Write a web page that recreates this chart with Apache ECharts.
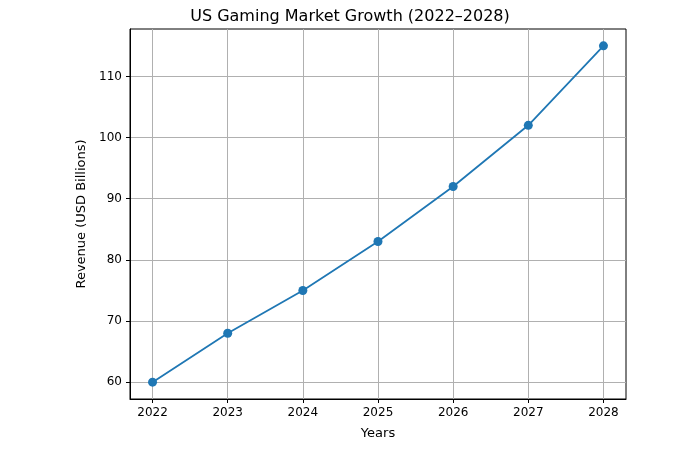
<!DOCTYPE html>
<html><head><meta charset="utf-8">
<script src="https://cdn.jsdelivr.net/npm/echarts@6/dist/echarts.min.js"></script>
<style>body{margin:0}#c{width:700px;height:450px}</style></head>
<body><div id="c"></div>
<script>
const years = [2022, 2023, 2024, 2025, 2026, 2027, 2028];
const revenue = [60, 68, 75, 83, 92, 102, 115];
const yTicks = [60, 70, 80, 90, 100, 110];
const font = 'DejaVu Sans';
const chart = echarts.init(document.getElementById('c'));
const ax = {
  axisLine: {onZero: false, lineStyle: {color: '#000', width: 1}},
  axisTick: {show: true, length: 4, lineStyle: {color: '#000'}},
  axisLabel: {color: '#000', fontFamily: font, fontSize: 12},
  splitLine: {show: true, lineStyle: {color: '#b0b0b0', width: 1}},
  nameTextStyle: {color: '#000', fontFamily: font, fontSize: 13}
};
chart.setOption({
  animation: false,
  title: {text: 'US Gaming Market Growth (2022–2028)', left: 'center', top: 4,
    textStyle: {fontFamily: font, fontSize: 16, fontWeight: 'normal', color: '#000'}},
  grid: {left: 130, right: 74, top: 29, bottom: 51, show: true, borderColor: '#000', borderWidth: 1},
  xAxis: Object.assign({}, ax, {
    type: 'value', min: 2021.7, max: 2028.3, name: 'Years', nameLocation: 'middle', nameGap: 28,
    axisTick: Object.assign({}, ax.axisTick, {customValues: years}),
    axisLabel: Object.assign({}, ax.axisLabel, {customValues: years, margin: 8, formatter: v => String(v)})
  }),
  yAxis: Object.assign({}, ax, {
    type: 'value', min: 57.25, max: 117.75, name: 'Revenue (USD Billions)', nameLocation: 'middle', nameGap: 42,
    axisTick: Object.assign({}, ax.axisTick, {customValues: yTicks}),
    axisLabel: Object.assign({}, ax.axisLabel, {customValues: yTicks, margin: 8})
  }),
  series: [{
    type: 'line', data: years.map((y, i) => [y, revenue[i]]),
    symbol: 'circle', symbolSize: 9,
    lineStyle: {color: '#1f77b4', width: 1.8},
    itemStyle: {color: '#1f77b4'}
  }]
});
</script></body></html>
